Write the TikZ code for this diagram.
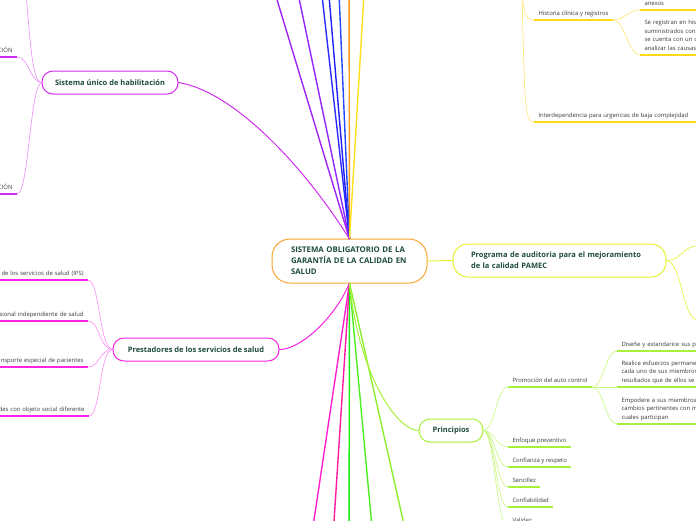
\documentclass[tikz,border=0pt]{standalone}
\usepackage{fontspec}
\setmainfont{Open Sans}
\usetikzlibrary{calc}
\definecolor{mm-text}{HTML}{1D4B3C}
\definecolor{mm-leaf}{HTML}{3A3A3A}
\definecolor{mm-hub}{HTML}{F8A531}
\definecolor{mm-habil}{HTML}{D22BF0}
\definecolor{mm-habil-lt}{HTML}{E98CF7}
\definecolor{mm-prest}{HTML}{FA22E6}
\definecolor{mm-prest-lt}{HTML}{FF8EF2}
\definecolor{mm-pamec}{HTML}{E6F22C}
\definecolor{mm-princ}{HTML}{A8F03A}
\definecolor{mm-princ-lt}{HTML}{C8F77E}
\definecolor{mm-hist}{HTML}{FFD81A}
\definecolor{mm-hist-lt}{HTML}{FFE470}

\tikzset{
    topic/.style={draw, line width=1pt, rounded corners=11pt, fill=white, text=mm-text,
        font=\fontsize{7.5}{11}\selectfont\bfseries, inner xsep=10pt, minimum height=23pt, outer sep=0pt},
    leaf/.style={text=mm-leaf, font=\fontsize{5.9}{8.5}\selectfont, inner xsep=4.5pt, inner ysep=2pt,
        outer sep=0pt, execute at end node=\strut},
    uline/.style={line width=1.6pt},
    link/.style={line width=0.6pt},
    trunk/.style={line width=1.4pt}
}

\begin{document}
\begin{tikzpicture}[x=1pt, y=-1pt]
    \useasboundingbox (0,0) rectangle (696,520);
    \clip (0,0) rectangle (696,520);

    % Main topics
    \node[topic, draw=mm-hub, rounded corners=18pt, text width=117pt, align=left, inner xsep=19pt,
        minimum height=44pt, font=\fontsize{7.8}{11}\selectfont\bfseries] (hub) at (349.5,261)
        {SISTEMA OBLIGATORIO DE LA\\GARANTÍA DE LA CALIDAD EN\\SALUD};
    \node[topic, draw=mm-habil, minimum width=136pt] (habil) at (110,82.5) {Sistema único de habilitación};
    \node[topic, draw=mm-prest, minimum width=166pt] (prest) at (196,349.5) {Prestadores de los servicios de salud};
    \node[topic, draw=mm-pamec, rounded corners=15pt, text width=177pt, align=left, inner xsep=18pt,
        minimum height=33pt] (pamec) at (559.5,260.5) {Programa de auditoria para el mejoramiento\\de la calidad PAMEC};
    \node[topic, draw=mm-princ, minimum width=64pt] (princ) at (451,430.5) {Principios};

    % Branches leaving the picture at the top and bottom
    \foreach \i/\x/\c in {1/265/A024F5, 2/291/9326FF, 3/318/2B2BFF, 4/326/1F1FF5, 5/337.6/2448FF,
                          6/349/FF9A1A, 7/366/FFE01A} {
        \coordinate (up-\i) at (\x,-40);
        \definecolor{tmp}{HTML}{\c}
        \draw[trunk, tmp] (hub.north) -- (up-\i);
    }
    \foreach \i/\x/\c in {1/308/FF1FD0, 2/331.5/FF1A9E, 3/349/14EE14, 4/375/4CF022, 5/412/8CF030} {
        \coordinate (down-\i) at (\x,560);
        \definecolor{tmp}{HTML}{\c}
        \draw[trunk, tmp] (hub.south) -- (down-\i);
    }

    % Links from the centre
    \draw[line width=1pt, mm-habil] (habil.east) .. controls (230,90) and (300,160) .. (hub.north);
    \draw[line width=1pt, mm-prest] (prest.east) .. controls (300,350) and (335,318) .. (hub.south);
    \draw[line width=1pt, mm-pamec] (hub.east) -- (pamec.west);
    \draw[line width=1pt, mm-princ] (hub.south) .. controls (358,370) and (395,430.5) .. (princ.west);

    % Sistema unico de habilitacion
    \node[leaf, anchor=south east, text width=40pt, align=right] (acr-a) at (17,57) {CIÓN};
    \node[leaf, anchor=south east, text width=40pt, align=right] (acr-b) at (17,194) {CIÓN};
    \coordinate (habil-up) at (25,-20);
    \foreach \n in {acr-a, acr-b} {
        \draw[uline, mm-habil] (\n.south west) -- (\n.south east);
        \draw[link, mm-habil-lt] (habil.west) .. controls +(-12,0) and +(12,0) .. (\n.south east);
    }
    \draw[link, mm-habil-lt] (habil.west) .. controls (32,83) and (30,40) .. (habil-up);

    % Prestadores de los servicios de salud
    \node[leaf, anchor=south east, text width=110pt, align=right] (ips) at (88,280) {de los servicios de salud (IPS)};
    \node[leaf, anchor=south east, text width=110pt, align=right] (indep) at (88,321) {sional independiente de salud};
    \node[leaf, anchor=south east, text width=110pt, align=right] (transp) at (88,367) {nsporte especial de pacientes};
    \node[leaf, anchor=south east, text width=110pt, align=right] (otras) at (89,416) {des con objeto social diferente};
    \foreach \n in {ips, indep, transp, otras} {
        \draw[uline, mm-prest] (\n.south west) -- (\n.south east);
        \draw[link, mm-prest-lt] (prest.west) .. controls +(-14,0) and +(12,0) .. (\n.south east);
    }

    % Programa PAMEC
    \coordinate (pamec-a) at (698,246);
    \coordinate (pamec-b) at (698,320);
    \foreach \n in {pamec-a, pamec-b}
        \draw[link, mm-pamec] (pamec.east) .. controls +(16,0) and +(-16,0) .. (\n);

    % Principios
    \node[leaf, anchor=south west] (autoctl) at (508,387) {Promoción del auto control};
    \node[leaf, anchor=south west] (enfoque) at (508,447) {Enfoque preventivo};
    \node[leaf, anchor=south west] (confianza) at (508,467) {Confianza y respeto};
    \node[leaf, anchor=south west] (sencillez) at (508,487) {Sencillez};
    \node[leaf, anchor=south west] (confiab) at (508,507) {Confiabilidad};
    \node[leaf, anchor=south west] (validez) at (508,527) {Validez};
    \foreach \n in {autoctl, enfoque, confianza, sencillez, confiab, validez} {
        \draw[uline, mm-princ] (\n.south west) -- (\n.south east);
        \draw[link, mm-princ-lt] (princ.east) .. controls +(12,0) and +(-12,0) .. (\n.south west);
    }
    \node[leaf, anchor=south west, text width=100pt, align=left] (disene) at (617,351) {Diseñe y estandarice sus p};
    \node[leaf, anchor=south west, text width=100pt, align=left] (realice) at (617,387)
        {Realice esfuerzos permane\\cada uno de sus miembros\\resultados que de ellos se};
    \node[leaf, anchor=south west, text width=100pt, align=left] (empodere) at (617,424)
        {Empodere a sus miembros\\cambios pertinentes con m\\cuales participan};
    \foreach \n in {disene, realice, empodere} {
        \draw[uline, mm-princ] (\n.south west) -- (\n.south east);
        \draw[link, mm-princ-lt] (autoctl.south east) .. controls +(12,0) and +(-12,0) .. (\n.south west);
    }

    % Historia clinica y registros
    \coordinate (hist-up) at (521,-40);
    \node[leaf, anchor=south west] (historia) at (534,20) {Historia clínica y registros};
    \node[leaf, anchor=south west, text width=170pt, align=left] (interdep) at (534,122)
        {Interdependencia para urgencias de baja complejidad};
    \node[leaf, anchor=south west, text width=100pt, align=left] (anexos) at (640,10) {anexos};
    \node[leaf, anchor=south west, text width=100pt, align=left] (registran) at (640,55)
        {Se registran en his\\suministrados con\\se cuenta con un c\\analizar las causas};
    \foreach \n in {historia, interdep, anexos, registran}
        \draw[uline, mm-hist] (\n.south west) -- (\n.south east);
    \draw[link, mm-hist-lt] (hist-up) .. controls (522,12) and (524,20) .. (historia.south west);
    \draw[link, mm-hist-lt] (hist-up) .. controls (525,105) and (524,122) .. (interdep.south west);
    \foreach \n in {anexos, registran}
        \draw[link, mm-hist-lt] (historia.south east) .. controls +(12,0) and +(-12,0) .. (\n.south west);
\end{tikzpicture}
\end{document}
